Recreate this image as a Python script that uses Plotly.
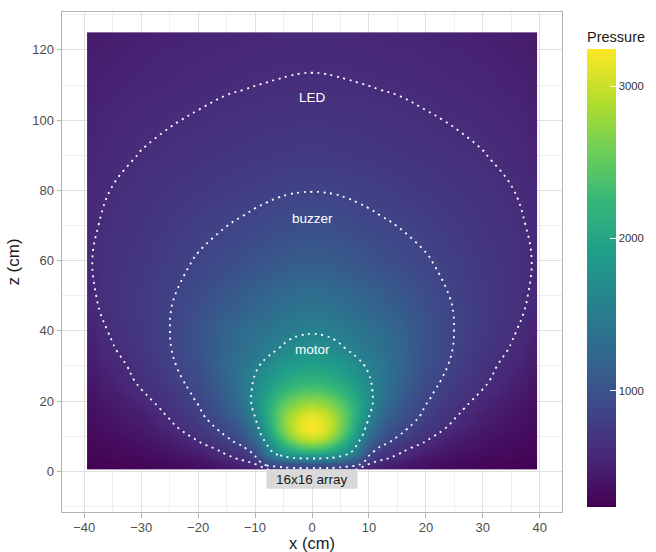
import plotly.graph_objects as go

# ---- data ----
# lateral positions (cm), right half; field is mirror-symmetric about x = 0
x_half = [0, 2, 4, 6, 8, 10, 12, 15, 20, 25, 30, 35, 40]
# heights above the array (cm)
z_rows = [0.5, 2, 3.5, 5, 6.5, 8, 10, 12, 14, 16, 18, 20, 23, 26, 30, 35,
          40, 45, 50, 60, 70, 80, 90, 100, 110, 117, 125]
# pressure, one row per z_rows entry, columns follow x_half
p_z0_5 = [800, 797, 785, 740, 590, 510, 470, 420, 320, 285, 260, 245, 235]
p_z2 = [1000, 995, 980, 950, 920, 610, 530, 460, 370, 320, 290, 265, 250]
p_z3_5 = [1560, 1550, 1500, 1350, 1080, 800, 655, 560, 420, 350, 310, 285, 265]
p_z5 = [2000, 1960, 1840, 1660, 1450, 880, 700, 630, 480, 390, 340, 305, 280]
p_z6_5 = [2420, 2350, 2150, 1860, 1510, 1050, 800, 680, 540, 425, 360, 320, 290]
p_z8 = [2800, 2700, 2430, 2040, 1610, 1200, 920, 760, 600, 455, 380, 330, 300]
p_z10 = [3100, 3000, 2700, 2280, 1790, 1320, 1030, 855, 665, 505, 410, 350, 315]
p_z12 = [3240, 3135, 2845, 2415, 1920, 1430, 1110, 910, 730, 560, 445, 375, 330]
p_z14 = [3220, 3125, 2860, 2465, 2000, 1540, 1190, 960, 775, 605, 475, 395, 345]
p_z16 = [3120, 3040, 2810, 2465, 2050, 1620, 1280, 1020, 810, 640, 495, 410, 355]
p_z18 = [2940, 2875, 2690, 2410, 2065, 1695, 1320, 1060, 835, 670, 530, 430, 368]
p_z20 = [2720, 2670, 2525, 2300, 2020, 1710, 1390, 1110, 865, 700, 565, 455, 380]
p_z23 = [2420, 2385, 2280, 2120, 1910, 1675, 1425, 1160, 900, 740, 615, 490, 400]
p_z26 = [2180, 2155, 2080, 1965, 1810, 1630, 1440, 1190, 935, 775, 650, 530, 430]
p_z30 = [1950, 1932, 1880, 1796, 1684, 1551, 1420, 1230, 980, 810, 680, 560, 470]
p_z35 = [1750, 1732, 1680, 1593, 1500, 1400, 1320, 1210, 1010, 840, 720, 610, 500]
p_z40 = [1570, 1555, 1515, 1460, 1410, 1370, 1305, 1200, 1010, 848, 740, 640, 530]
p_z45 = [1430, 1420, 1390, 1345, 1295, 1250, 1195, 1120, 980, 845, 750, 665, 560]
p_z50 = [1310, 1302, 1280, 1245, 1205, 1165, 1120, 1050, 940, 830, 745, 675, 580]
p_z60 = [1120, 1114, 1098, 1073, 1045, 1015, 982, 930, 865, 790, 725, 670, 600]
p_z70 = [970, 966, 954, 936, 915, 895, 874, 848, 800, 745, 695, 650, 590]
p_z80 = [845, 843, 837, 827, 815, 803, 790, 770, 735, 700, 665, 625, 570]
p_z90 = [755, 753, 749, 743, 735, 726, 716, 700, 675, 650, 625, 590, 545]
p_z100 = [690, 688, 685, 680, 674, 666, 658, 650, 632, 612, 590, 560, 520]
p_z110 = [635, 634, 631, 627, 623, 619, 614, 608, 590, 570, 550, 525, 495]
p_z117 = [605, 604, 601, 598, 594, 590, 585, 578, 563, 545, 528, 505, 478]
p_z125 = [575, 574, 572, 569, 565, 561, 556, 550, 537, 520, 505, 485, 462]

pressure_rows = [p_z0_5, p_z2, p_z3_5, p_z5, p_z6_5, p_z8, p_z10, p_z12,
                 p_z14, p_z16, p_z18, p_z20, p_z23, p_z26, p_z30, p_z35,
                 p_z40, p_z45, p_z50, p_z60, p_z70, p_z80, p_z90, p_z100,
                 p_z110, p_z117, p_z125]

# contour thresholds and their labels
contour_names = ["LED", "buzzer", "motor"]
contour_levels = [620, 850, 1600]
label_z = [106.5, 72.0, 34.6]

array_label = "16x16 array"
array_half_width = 8      # cm (16 elements of 1 cm)
array_depth = -5          # label box bottom (cm)

color_min, color_max = 235, 3245
x_ticks = [-40, -30, -20, -10, 0, 10, 20, 30, 40]
y_ticks = [0, 20, 40, 60, 80, 100, 120]
cbar_ticks = [1000, 2000, 3000]

# ---- build the mirrored grid ----
x_full = [-v for v in x_half[:0:-1]] + x_half
P_full = [row[:0:-1] + row for row in pressure_rows]


def edges(c, lo, hi):
    e = [lo]
    for a, b in zip(c[:-1], c[1:]):
        e.append((a + b) / 2)
    e.append(hi)
    return e


# heatmap brick edges (field extent -39.5..39.5, 0.5..125)
x_edges = edges(x_full, -39.5, 39.5)
z_edges = edges(z_rows, 0.5, 125)

FONT = "Liberation Sans, Arial, Helvetica, sans-serif"

fig = go.Figure()
fig.add_trace(go.Heatmap(
    x=x_edges, y=z_edges, z=P_full, zsmooth="best",
    colorscale="Viridis", zmin=color_min, zmax=color_max,
    hoverinfo="skip",
    colorbar=dict(
        title=dict(text="Pressure", side="top",
                   font=dict(size=14.5, color="#1a1a1a", family=FONT)),
        thickness=29, thicknessmode="pixels",
        len=479, lenmode="pixels",
        x=1.05, xanchor="left", xpad=0,
        y=0.968, yanchor="top", ypad=0,
        outlinewidth=0,
        ticks="inside", ticklen=6, tickwidth=1, tickcolor="white",
        tickvals=cbar_ticks,
        tickfont=dict(size=11.3, color="#333333", family=FONT),
    ),
))

for lvl in contour_levels:
    fig.add_trace(go.Contour(
        x=x_full, y=z_rows, z=P_full,
        autocontour=False,
        contours=dict(start=lvl, end=lvl, size=1, coloring="none",
                      showlabels=False),
        line=dict(color="white", width=1.8, dash="2px,4.6px", smoothing=1.2),
        showscale=False, hoverinfo="skip",
    ))

for name, zl in zip(contour_names, label_z):
    fig.add_annotation(x=0, y=zl, text=name, showarrow=False,
                       font=dict(size=13.5, color="white", family=FONT))

fig.add_shape(type="rect", x0=-array_half_width, x1=array_half_width,
              y0=array_depth, y1=0.5, fillcolor="#d9d9d9",
              line=dict(width=0), layer="above")
fig.add_annotation(x=0, y=(array_depth + 0.5) / 2, text=array_label,
                   showarrow=False,
                   font=dict(size=13.5, color="#1a1a1a", family=FONT))

axis_common = dict(
    showgrid=True, gridcolor="#e0e0e0", gridwidth=1,
    zeroline=False, showline=True, mirror=True,
    linecolor="#b3b3b3", linewidth=1,
    ticks="outside", ticklen=4.5, tickcolor="#b3b3b3", tickwidth=1,
    tickfont=dict(size=13, color="#4d4d4d", family=FONT),
    automargin=True,
)

fig.update_layout(
    width=656, height=552,
    margin=dict(l=62, r=94, t=12, b=40, autoexpand=False),
    paper_bgcolor="white", plot_bgcolor="white",
    font=dict(family=FONT),
    showlegend=False,
    xaxis=dict(
        range=[-43.9, 43.9], tickvals=x_ticks,
        ticklabelstandoff=-1,
        minor=dict(dtick=10, tick0=-35, showgrid=True,
                   gridcolor="#efefef", gridwidth=1, ticks=""),
        title=dict(text="x (cm)", standoff=5,
                   font=dict(size=16.5, color="#1a1a1a", family=FONT)),
        **axis_common,
    ),
    yaxis=dict(
        range=[-11.6, 130.8], tickvals=y_ticks,
        minor=dict(dtick=20, tick0=-10, showgrid=True,
                   gridcolor="#efefef", gridwidth=1, ticks=""),
        title=dict(text="z (cm)", standoff=8,
                   font=dict(size=17, color="#1a1a1a", family=FONT)),
        **axis_common,
    ),
)

# the page body has a default 8px margin; remove it so the figure sits at (0, 0)
fig.write_html("out.html",
               config={"displayModeBar": False},
               post_script="document.body.style.margin='0';"
                           "document.body.style.overflow='hidden';")
